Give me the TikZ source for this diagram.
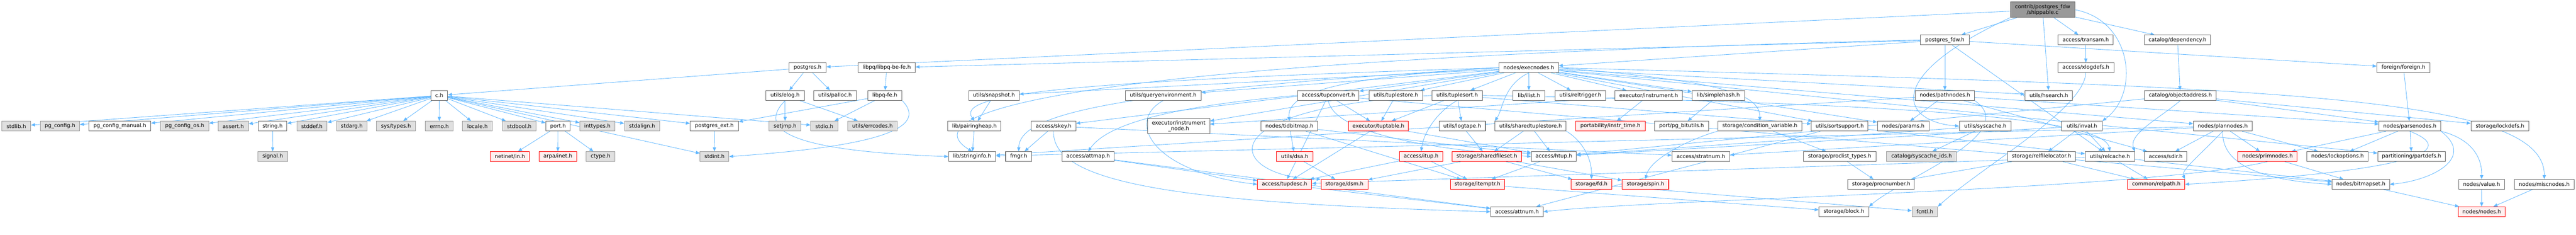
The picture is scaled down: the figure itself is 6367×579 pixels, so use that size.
\documentclass[tikz,border=0pt]{standalone}
\usepackage{fontspec}
\setmainfont{DejaVu Sans}
\usetikzlibrary{arrows.meta}
\definecolor{eb}{HTML}{63B8FF}
\definecolor{cdark}{HTML}{666666}
\definecolor{cmid}{HTML}{999999}
\definecolor{clight}{HTML}{E0E0E0}
\definecolor{cpink}{HTML}{FFF0F0}
\newcommand\nf{\fontsize{13}{13.8}\selectfont}
\pgfdeclarelayer{edgelayer}
\pgfsetlayers{edgelayer,main}
\tikzset{
  base/.style={draw, rectangle, minimum height=24, inner sep=0pt, line width=1.3pt, font=\nf, text=black},
  wn/.style={base, draw=cdark, fill=white},
  gn/.style={base, draw=cmid, fill=clight},
  rn/.style={base, draw=red, fill=cpink},
  topn/.style={base, draw=cdark, fill=cmid, minimum height=38, align=center},
  twol/.style={minimum height=37.5, align=center},
  dep/.style={draw=eb, line width=1.1pt, -{Triangle[length=10pt,width=8pt]}}
}
\begin{document}
\begin{tikzpicture}[x=1pt,y=-1pt]
\useasboundingbox (0,0) rectangle (6367,579);
% row 0
\node[topn, minimum width=159] (top) at (5048.5,24) {contrib/postgres\_fdw\\/shippable.c};
% row 1
\node[wn,minimum width=120] (pgfdw) at (4807,98.5) {postgres\_fdw.h};
\node[wn,minimum width=136] (transam) at (5155,98.5) {access/transam.h};
\node[wn,minimum width=162] (dependency) at (5382,98.5) {catalog/dependency.h};
% row 2
\node[wn,minimum width=92] (postgres) at (1996,167) {postgres.h};
\node[wn,minimum width=141] (libpqbefe) at (2191.5,167) {libpq/libpq-be-fe.h};
\node[wn,minimum width=147] (execnodes) at (3778.5,167) {nodes/execnodes.h};
\node[wn,minimum width=139] (xlogdefs) at (5155.5,167) {access/xlogdefs.h};
\node[wn,minimum width=131] (foreign) at (5940.5,167) {foreign/foreign.h};
% row 3
\node[wn,minimum width=41.5] (ch) at (1085.7,235.3) {c.h};
\node[wn,minimum width=95] (elog) at (1940.5,235.3) {utils/elog.h};
\node[wn,minimum width=105.5] (palloc) at (2064,235.3) {utils/palloc.h};
\node[wn,minimum width=84.5] (libpqfe) at (2187,235.3) {libpq-fe.h};
\node[wn,minimum width=125] (snapshot) at (2456.5,235.3) {utils/snapshot.h};
\node[wn,minimum width=187] (queryenv) at (2875,235.3) {utils/queryenvironment.h};
\node[wn,minimum width=152] (tupconvert) at (3283,235.3) {access/tupconvert.h};
\node[wn,minimum width=132.5] (tuplestore) at (3450,235.3) {utils/tuplestore.h};
\node[wn,minimum width=125] (tuplesort) at (3601.5,235.3) {utils/tuplesort.h};
\node[wn,minimum width=79] (ilist) at (3779,235.3) {lib/ilist.h};
\node[wn,minimum width=125.6] (reltrigger) at (3906,235.3) {utils/reltrigger.h};
\node[wn,minimum width=166] (instrument) at (4075,235.3) {executor/instrument.h};
\node[wn,minimum width=129.6] (simplehash) at (4247,235.3) {lib/simplehash.h};
\node[wn,minimum width=146] (pathnodes) at (4807,235.3) {nodes/pathnodes.h};
\node[wn,minimum width=117.5] (hsearch) at (5064,235.3) {utils/hsearch.h};
\node[wn,minimum width=176] (objaddr) at (5389,235.3) {catalog/objectaddress.h};
% row 4
\node[gn,minimum width=71] (stdlib) at (40.3,311) {stdlib.h};
\node[gn,minimum width=96.6] (pgconfig) at (148.3,311) {pg\_config.h};
\node[wn,minimum width=152.6] (pgcfgman) at (296.3,311) {pg\_config\_manual.h};
\node[gn,minimum width=119] (pgcfgos) at (456.5,311) {pg\_config\_os.h};
\node[gn,minimum width=75] (assert) at (576.5,311) {assert.h};
\node[wn,minimum width=70.5] (string) at (673.7,311) {string.h};
\node[gn,minimum width=75] (stddef) at (771,311) {stddef.h};
\node[gn,minimum width=75] (stdarg) at (869.5,311) {stdarg.h};
\node[gn,minimum width=96.5] (systypes) at (978.7,311) {sys/types.h};
\node[gn,minimum width=68.3] (errno) at (1085.9,311) {errno.h};
\node[gn,minimum width=74] (locale) at (1180,311) {locale.h};
\node[gn,minimum width=83] (stdbool) at (1283.5,311) {stdbool.h};
\node[wn,minimum width=60.5] (port) at (1379.2,311) {port.h};
\node[gn,minimum width=87] (inttypes) at (1476.5,311) {inttypes.h};
\node[gn,minimum width=87] (stdalign) at (1587,311) {stdalign.h};
\node[wn,minimum width=119] (pgext) at (1765.5,311) {postgres\_ext.h};
\node[gn,minimum width=79] (setjmp) at (1940.5,311) {setjmp.h};
\node[gn,minimum width=67] (stdio) at (2037.5,311) {stdio.h};
\node[gn,minimum width=123] (errcodes) at (2156.5,311) {utils/errcodes.h};
\node[wn,minimum width=131] (pairingheap) at (2408.5,311) {lib/pairingheap.h};
\node[wn,minimum width=110] (skey) at (2604,311) {access/skey.h};
\node[wn,twol,minimum width=153.4] (instrnode) at (2913.3,311) {executor/instrument\\\_node.h};
\node[wn,minimum width=140] (tidbitmap) at (3187,311) {nodes/tidbitmap.h};
\node[rn,minimum width=148] (tuptable) at (3407,311) {executor/tuptable.h};
\node[wn,minimum width=114.3] (logtape) at (3614,311) {utils/logtape.h};
\node[wn,minimum width=176] (sharedts) at (3783,311) {utils/sharedtuplestore.h};
\node[rn,minimum width=171] (instrtime) at (3980.5,311) {portability/instr\_time.h};
\node[wn,minimum width=132.7] (bitutils) at (4156.3,311) {port/pg\_bitutils.h};
\node[wn,minimum width=207.5] (condvar) at (4349.7,311) {storage/condition\_variable.h};
\node[wn,minimum width=140] (sortsupport) at (4547,311) {utils/sortsupport.h};
\node[wn,minimum width=127.5] (params) at (4704,311) {nodes/params.h};
\node[wn,minimum width=127.8] (syscache) at (4907,311) {utils/syscache.h};
\node[wn,minimum width=99.6] (inval) at (5145.8,311) {utils/inval.h};
\node[wn,minimum width=144.4] (plannodes) at (5493.8,311) {nodes/plannodes.h};
\node[wn,minimum width=152.6] (parsenodes) at (5956.3,311) {nodes/parsenodes.h};
\node[wn,minimum width=143] (lockdefs) at (6179,311) {storage/lockdefs.h};
% row 5
\node[gn,minimum width=74] (signal) at (674,386) {signal.h};
\node[rn,minimum width=96.6] (netinet) at (1260.3,386) {netinet/in.h};
\node[rn,minimum width=92.3] (arpa) at (1378.8,386) {arpa/inet.h};
\node[gn,minimum width=71] (ctype) at (1484.5,386) {ctype.h};
\node[gn,minimum width=71] (stdint) at (1766,386) {stdint.h};
\node[wn,minimum width=116.5] (stringinfo) at (2402.7,386) {lib/stringinfo.h};
\node[wn,minimum width=64.3] (fmgr) at (2517.8,386) {fmgr.h};
\node[wn,minimum width=129] (attmap) at (2689.5,386) {access/attmap.h};
\node[rn,minimum width=90.4] (dsa) at (3200,386) {utils/dsa.h};
\node[rn,minimum width=107] (itup) at (3512.5,386) {access/itup.h};
\node[rn,minimum width=171.2] (sharedfs) at (3675,386) {storage/sharedfileset.h};
\node[wn,minimum width=111] (htup) at (3840.5,386) {access/htup.h};
\node[wn,minimum width=142.5] (stratnum) at (4204,386) {access/stratnum.h};
\node[wn,minimum width=179] (proclist) at (4547,386) {storage/proclist\_types.h};
\node[gn,minimum width=173] (syscacheids) at (4749.5,386) {catalog/syscache\_ids.h};
\node[wn,minimum width=168.5] (relfileloc) at (5045.7,386) {storage/relfilelocator.h};
\node[wn,minimum width=122] (relcache) at (5215,386) {utils/relcache.h};
\node[wn,minimum width=104.3] (sdir) at (5352.8,386) {access/sdir.h};
\node[rn,minimum width=147.3] (primnodes) at (5604.3,386) {nodes/primnodes.h};
\node[wn,minimum width=151] (lockoptions) at (5777.5,386) {nodes/lockoptions.h};
\node[wn,minimum width=167] (partdefs) at (5960.5,386) {partitioning/partdefs.h};
% row 6
\node[rn,minimum width=134] (tupdesc) at (3175,454.5) {access/tupdesc.h};
\node[rn,minimum width=116] (dsm) at (3323,454.5) {storage/dsm.h};
\node[rn,minimum width=134.4] (itemptr) at (3651.8,454.5) {storage/itemptr.h};
\node[rn,minimum width=101] (fd) at (3933.5,454.5) {storage/fd.h};
\node[rn,minimum width=115] (spin) at (4067,454.5) {storage/spin.h};
\node[wn,minimum width=164.2] (procnumber) at (4649.6,454.5) {storage/procnumber.h};
\node[rn,minimum width=141] (relpath) at (5329.5,454.5) {common/relpath.h};
\node[wn,minimum width=142] (bitmapset) at (5835,454.5) {nodes/bitmapset.h};
\node[wn,minimum width=114] (value) at (6133.6,454.5) {nodes/value.h};
\node[wn,minimum width=147] (miscnodes) at (6288.5,454.5) {nodes/miscnodes.h};
% row 7
\node[wn,minimum width=129.5] (attnum) at (3749.3,522) {access/attnum.h};
\node[wn,minimum width=123] (block) at (4557.5,522) {storage/block.h};
\node[gn,minimum width=63] (fcntl) at (4757.5,522) {fcntl.h};
\node[rn,minimum width=116.4] (nodesh) at (6133.8,522) {nodes/nodes.h};

\begin{pgfonlayer}{edgelayer}
% shippable.c
\draw[dep] (top) -- (postgres);
\draw[dep] (top) -- (pgfdw);
\draw[dep] (top) -- (transam);
\draw[dep] (top) -- (hsearch);
\draw[dep] (top) -- (dependency);
\draw[dep] (top.east) .. controls (5270,50) and (5290,230) .. (inval.north east);
\draw[dep] (top.south west) .. controls (4650,190) and (4700,300) .. (syscache.west);
% postgres.h
\draw[dep] (postgres) -- (ch);
\draw[dep] (postgres) -- (elog);
\draw[dep] (postgres) -- (palloc);
% c.h
\foreach \t in {stdlib,pgconfig,pgcfgman,pgcfgos,assert,string,stddef,stdarg,systypes,errno,locale,stdbool,port,inttypes,stdalign,pgext,stdio,stdint}
  \draw[dep] (ch) -- (\t);
\draw[dep] (string) -- (signal);
\draw[dep] (port) -- (netinet);
\draw[dep] (port) -- (arpa);
\draw[dep] (port) -- (ctype);
\draw[dep] (pgext) -- (stdint);
% elog
\draw[dep] (elog) -- (setjmp);
\draw[dep] (elog) -- (errcodes);
\draw[dep] (elog.south) .. controls (1870,320) and (1950,372) .. (stringinfo.west);
% libpq
\draw[dep] (libpqbefe) -- (libpqfe);
\draw[dep] (libpqfe) -- (pgext);
\draw[dep] (libpqfe) -- (stdio);
\draw[dep] (libpqfe.south east) .. controls (2300,320) and (2150,362) .. (stdint.east);
\draw[dep] (snapshot) -- (pairingheap);
\draw[dep] (pairingheap) -- (stringinfo);
\draw[dep] (skey) -- (fmgr);
\draw[dep] (skey.south) .. controls (2600,450) and (2900,500) .. (attnum.west);
\draw[dep] (skey) -- (stratnum);
% execnodes
\foreach \t in {tupconvert,tuplestore,tuplesort,queryenv,snapshot,ilist,reltrigger,instrument,simplehash,instrnode,sortsupport,params,hsearch,plannodes,partdefs,skey}
  \draw[dep] (execnodes) -- (\t);
\draw[dep] (execnodes.west) .. controls (2650,200) and (2360,230) .. (pairingheap.north);
\draw[dep] (execnodes.west) .. controls (2750,225) and (2520,280) .. (fmgr.north);
\draw[dep] (execnodes.south) .. controls (3715,210) and (3715,270) .. (sharedts.north west);
\draw[dep] (execnodes.west) .. controls (3300,190) and (3180,230) .. (tidbitmap.north);
\draw[dep] (execnodes.east) .. controls (4250,200) and (4350,230) .. (condvar.north);
\draw[dep] (execnodes.east) .. controls (5600,215) and (6290,230) .. (miscnodes.north);
% postgres_fdw.h
\draw[dep] (pgfdw) -- (foreign);
\draw[dep] (pgfdw.west) .. controls (2600,150) and (2250,280) .. (stringinfo.north);
\draw[dep] (pgfdw) -- (libpqbefe);
\draw[dep] (pgfdw) -- (execnodes);
\draw[dep] (pgfdw) -- (pathnodes);
\draw[dep] (pgfdw) -- (relcache);
% transam, dependency, foreign
\draw[dep] (transam) -- (xlogdefs);
\draw[dep] (xlogdefs.south) .. controls (5150,270) and (4900,410) .. (fcntl.north east);
\draw[dep] (dependency) -- (objaddr);
\draw[dep] (objaddr) -- (parsenodes);
\draw[dep] (objaddr) -- (lockdefs);
\draw[dep] (objaddr.south) .. controls (5340,290) and (5260,330) .. (relcache.north east);
\draw[dep] (objaddr) -- (htup);
\draw[dep] (foreign) -- (parsenodes);
% pathnodes
\draw[dep] (pathnodes) -- (params);
\draw[dep] (pathnodes.south east) .. controls (5000,330) and (4700,440) .. (block.north east);
\draw[dep] (pathnodes) -- (parsenodes);
\draw[dep] (pathnodes) -- (sdir);
\draw[dep] (pathnodes) -- (stringinfo);
% inval, syscache, relcache, relfilelocator
\draw[dep] (inval) -- (htup);
\draw[dep] (inval) -- (relfileloc);
\draw[dep] (inval) -- (relcache);
\draw[dep] (syscache) -- (syscacheids);
\draw[dep] (syscache) -- (htup);
\draw[dep] (relcache) -- (relpath);
\draw[dep] (relcache) -- (tupdesc);
\draw[dep] (relcache) -- (bitmapset);
\draw[dep] (relfileloc) -- (relpath);
\draw[dep] (relfileloc) -- (procnumber);
% plannodes, primnodes, parsenodes
\draw[dep] (plannodes) -- (sdir);
\draw[dep] (plannodes.south) .. controls (5440,380) and (5390,420) .. (relpath.north east);
\draw[dep] (plannodes.south) .. controls (5490,410) and (5600,445) .. (bitmapset.west);
\draw[dep] (plannodes) -- (primnodes);
\draw[dep] (plannodes) -- (lockoptions);
\draw[dep] (plannodes) -- (stratnum);
\draw[dep] (plannodes) -- (stringinfo);
\draw[dep] (primnodes) -- (bitmapset);
\draw[dep] (primnodes.south) .. controls (5300,470) and (4100,490) .. (attnum.east);
\draw[dep] (parsenodes) -- (primnodes);
\draw[dep] (parsenodes) -- (lockoptions);
\draw[dep] (parsenodes) -- (partdefs);
\draw[dep] (parsenodes.south) .. controls (6100,380) and (5900,425) .. (relpath.east);
\draw[dep] (parsenodes.south east) .. controls (6120,390) and (6010,445) .. (bitmapset.east);
\draw[dep] (parsenodes.south east) .. controls (6100,340) and (6135,380) .. (value.north);
\draw[dep] (bitmapset) -- (nodesh);
\draw[dep] (value) -- (nodesh);
\draw[dep] (miscnodes) -- (nodesh);
% middle region
\draw[dep] (tupconvert) -- (tuptable);
\draw[dep] (tupconvert.south) .. controls (3300,340) and (3600,372) .. (htup.west);
\draw[dep] (tupconvert.west) .. controls (2800,270) and (2720,330) .. (attmap.north);
\draw[dep] (tupconvert) -- (tupdesc);
\draw[dep] (tupconvert) -- (bitmapset);
\draw[dep] (tuplestore) -- (tuptable);
\draw[dep] (tuplesort) -- (tuptable);
\draw[dep] (tuplesort.south) .. controls (3560,270) and (3520,320) .. (itup.north);
\draw[dep] (tuplesort) -- (logtape);
\draw[dep] (tuplesort.west) .. controls (2950,270) and (3050,440) .. (dsm.north west);
\draw[dep] (tuplesort) -- (sortsupport);
\draw[dep] (tuplesort.east) .. controls (4700,255) and (5200,290) .. (relcache.north);
\draw[dep] (tuptable) -- (tupdesc);
\draw[dep] (tuptable) -- (htup);
\draw[dep] (logtape) -- (sharedfs);
\draw[dep] (sharedts) -- (htup);
\draw[dep] (sharedts.south east) .. controls (3900,340) and (3935,380) .. (fd.north);
\draw[dep] (sharedts) -- (sharedfs);
\draw[dep] (instrument) -- (instrtime);
\draw[dep] (instrument) -- (instrnode);
\draw[dep] (simplehash) -- (bitutils);
\draw[dep] (tidbitmap) -- (dsa);
\draw[dep] (tidbitmap) -- (itemptr);
\draw[dep] (tidbitmap) -- (htup);
\draw[dep] (dsa) -- (dsm);
\draw[dep] (itup) -- (tupdesc);
\draw[dep] (itup) -- (itemptr);
\draw[dep] (sharedfs) -- (dsm);
\draw[dep] (sharedfs) -- (spin);
\draw[dep] (sharedfs) -- (fd);
\draw[dep] (htup) -- (itemptr);
\draw[dep] (condvar) -- (proclist);
\draw[dep] (condvar.south west) .. controls (4200,335) and (4080,385) .. (spin.north);
\draw[dep] (sortsupport) -- (attnum);
\draw[dep] (sortsupport) -- (relcache);
\draw[dep] (proclist) -- (procnumber);
\draw[dep] (tupdesc) -- (attnum);
\draw[dep] (itemptr) -- (block);
\draw[dep] (fd) -- (fcntl);
\draw[dep] (attmap) -- (tupdesc);
\draw[dep] (attmap) -- (attnum);
\draw[dep] (queryenv.south) .. controls (2780,300) and (2850,425) .. (tupdesc.west);
\end{pgfonlayer}
\end{tikzpicture}
\end{document}
